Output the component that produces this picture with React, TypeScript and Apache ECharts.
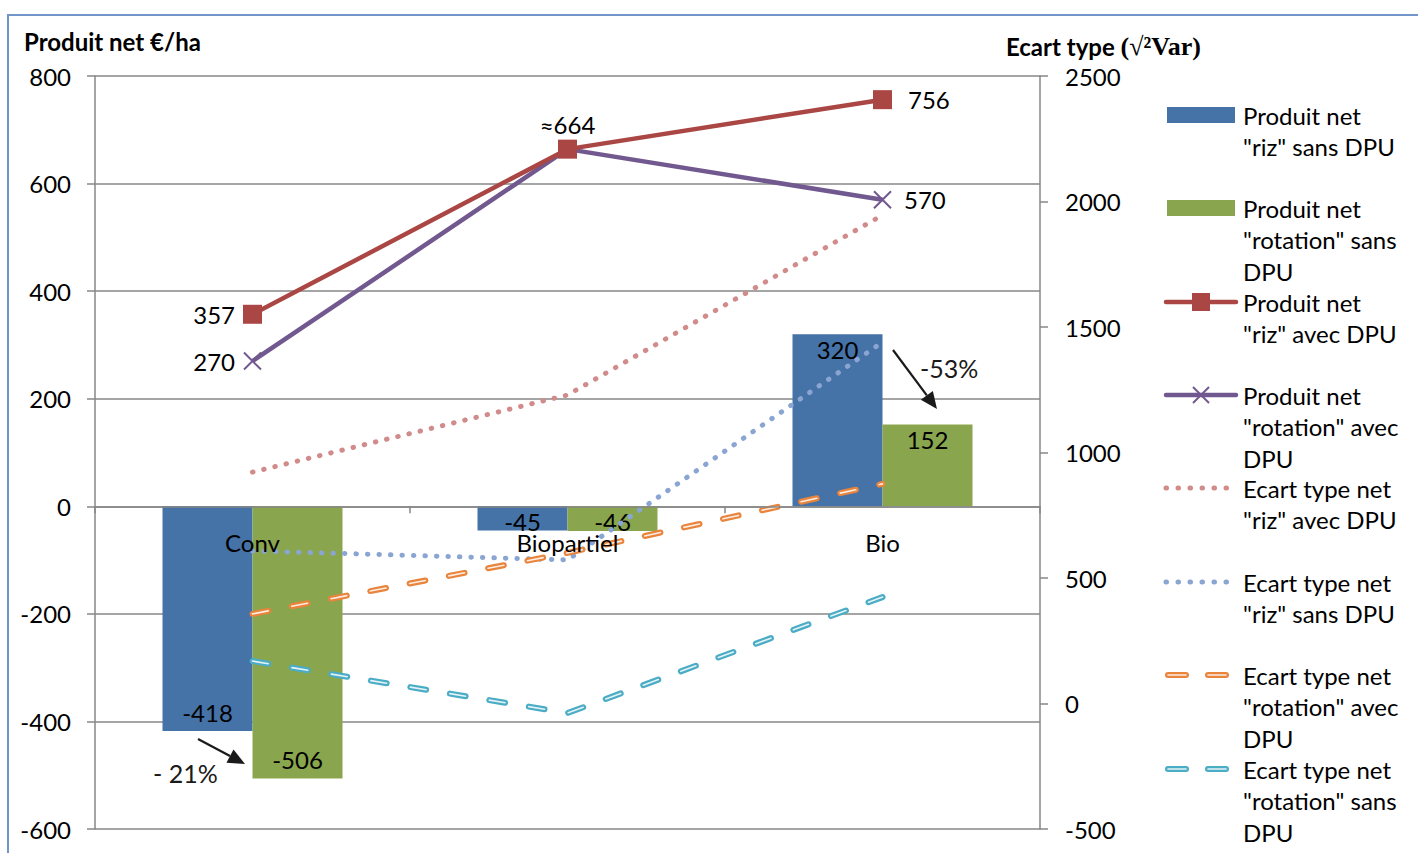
import React, { useEffect, useRef } from 'react';
import * as echarts from 'echarts';

const categories = ['Conv', 'Biopartiel', 'Bio'];
const rizSansDPU = [-418, -45, 320];
const rotationSansDPU = [-506, -46, 152];
const rizAvecDPU = [357, 664, 756];
const rotationAvecDPU = [270, 664, 570];
const ecartRizAvecDPU = [922, 1229, 1946];
const ecartRizSansDPU = [608, 572, 1440];
const ecartRotationAvecDPU = [357, 600, 875];
const ecartRotationSansDPU = [169, -38, 424];

const leftAxis = { min: -600, max: 800, interval: 200 };
const rightAxis = { min: -500, max: 2500, interval: 500 };

const rizAvecLabels = ['357', '≈664', '756'];
const rotationAvecLabels = ['270', '', '570'];

const legendLabels = [
  'Produit net\n"riz" sans DPU',
  'Produit net\n"rotation" sans\nDPU',
  'Produit net\n"riz" avec DPU',
  'Produit net\n"rotation" avec\nDPU',
  'Ecart type net\n"riz" avec DPU',
  'Ecart type net\n"riz" sans DPU',
  'Ecart type net\n"rotation" avec\nDPU',
  'Ecart type net\n"rotation" sans\nDPU',
];

const FONT = 'Lato';
const FS = 24;
const C = {
  blue: '#4572A7',
  green: '#89A54E',
  red: '#AA4643',
  purple: '#71588F',
  pink: '#D08B8A',
  lblue: '#8BA5D3',
  orange: '#E9843C',
  teal: '#4BACC6',
  axis: '#878787',
};

function arrow(x1: number, y1: number, x2: number, y2: number) {
  const dx = x2 - x1, dy = y2 - y1;
  const len = Math.sqrt(dx * dx + dy * dy);
  const ux = dx / len, uy = dy / len;
  const hl = 17, hw = 7.5;
  const bx = x2 - ux * hl, by = y2 - uy * hl;
  return [
    { type: 'line', shape: { x1, y1, x2: bx, y2: by }, style: { stroke: '#1a1a1a', lineWidth: 2.2 }, z: 50 },
    {
      type: 'polygon',
      shape: { points: [[x2, y2], [bx - uy * hw, by + ux * hw], [bx + uy * hw, by - ux * hw]] },
      style: { fill: '#1a1a1a' },
      z: 50,
    },
  ];
}

function legendIcon(i: number, cy: number): any[] {
  const x0 = 1166, x1 = 1236;
  switch (i) {
    case 0:
      return [{ type: 'rect', shape: { x: 1167, y: cy - 8, width: 68, height: 16 }, style: { fill: C.blue } }];
    case 1:
      return [{ type: 'rect', shape: { x: 1167, y: cy - 8, width: 68, height: 16 }, style: { fill: C.green } }];
    case 2:
      return [
        { type: 'line', shape: { x1: x0, y1: cy, x2: x1, y2: cy }, style: { stroke: C.red, lineWidth: 4.5, lineCap: 'round' } },
        { type: 'rect', shape: { x: 1192, y: cy - 9, width: 18, height: 18 }, style: { fill: C.red } },
      ];
    case 3:
      return [
        { type: 'line', shape: { x1: x0, y1: cy, x2: x1, y2: cy }, style: { stroke: C.purple, lineWidth: 4.5, lineCap: 'round' } },
        { type: 'line', shape: { x1: 1193, y1: cy - 8, x2: 1209, y2: cy + 8 }, style: { stroke: C.purple, lineWidth: 2 } },
        { type: 'line', shape: { x1: 1193, y1: cy + 8, x2: 1209, y2: cy - 8 }, style: { stroke: C.purple, lineWidth: 2 } },
      ];
    case 4:
    case 5:
      return [
        {
          type: 'line',
          shape: { x1: 1166, y1: cy, x2: 1232, y2: cy },
          style: { stroke: i === 4 ? C.pink : C.lblue, lineWidth: 5, lineCap: 'round', lineDash: [0.5, 11.5] },
        },
      ];
    default: {
      const col = i === 6 ? C.orange : C.teal;
      return [
        { type: 'line', shape: { x1: 1168, y1: cy, x2: 1186, y2: cy }, style: { stroke: col, lineWidth: 6, lineCap: 'round' } },
        { type: 'line', shape: { x1: 1208, y1: cy, x2: 1226, y2: cy }, style: { stroke: col, lineWidth: 6, lineCap: 'round' } },
        { type: 'line', shape: { x1: 1168, y1: cy, x2: 1186, y2: cy }, style: { stroke: '#fff', lineWidth: 1.6, lineCap: 'round', opacity: 0.85 } },
        { type: 'line', shape: { x1: 1208, y1: cy, x2: 1226, y2: cy }, style: { stroke: '#fff', lineWidth: 1.6, lineCap: 'round', opacity: 0.85 } },
      ];
    }
  }
}

const legendY = [115, 208, 302, 395, 488, 582, 675, 769];

function baseGraphic(): any[] {
  const graphic: any[] = [
    {
      type: 'rect', shape: { x: 8, y: 15, width: 1430, height: 860 },
      style: { fill: 'none', stroke: '#7396CA', lineWidth: 2 }, silent: true,
    },
    { type: 'text', x: 153, y: 773, style: { text: '- 21%', font: `25px ${FONT}`, fill: '#1a1a1a', textVerticalAlign: 'middle' }, z: 50 },
    { type: 'text', x: 920, y: 368, style: { text: '-53%', font: `25px ${FONT}`, fill: '#1a1a1a', textVerticalAlign: 'middle' }, z: 50 },
    ...arrow(198, 739, 245, 764),
    ...arrow(893, 350, 937, 409),
  ];
  legendLabels.forEach((t, i) => {
    const cy = legendY[i];
    graphic.push(...legendIcon(i, cy));
    graphic.push({
      type: 'text', x: 1243, y: cy - 15.75,
      style: { text: t, font: `${FS}px ${FONT}`, fill: '#000', lineHeight: 31.5, textVerticalAlign: 'top' },
    });
  });
  return graphic;
}

function buildOption(): any {
  const barLabel = (v: number) => ({
    value: v,
    label: Math.abs(v) < 100
      ? { position: 'inside', offset: [0, 3] }
      : { position: v < 0 ? 'insideBottom' : 'insideTop', distance: v < 0 ? 7 : 3 },
  });

  const dotted = (name: string, data: number[], color: string) => ({
    type: 'line', name, data, yAxisIndex: 1, symbol: 'none', showSymbol: false, z: 4,
    lineStyle: { color, width: 5, type: [0.5, 11], cap: 'round' },
  });
  const doubleDashed = (name: string, data: number[], color: string) => [
    {
      type: 'line', name, data, yAxisIndex: 1, symbol: 'none', showSymbol: false, z: 4,
      lineStyle: { color, width: 6, type: [16, 24], cap: 'round' },
    },
    {
      type: 'line', name: name + ' (inner)', data, yAxisIndex: 1, symbol: 'none', showSymbol: false, z: 5,
      lineStyle: { color: '#ffffff', width: 1.6, type: [16, 24], cap: 'round', opacity: 0.85 },
    },
  ];

  return {
    animation: false,
    backgroundColor: '#ffffff',
    textStyle: { fontFamily: FONT },
    title: [
      {
        text: 'Produit net €/ha', left: 19, top: 24,
        textStyle: { fontFamily: FONT, fontSize: 24, fontWeight: 'bold', color: '#000' },
      },
      {
        text: '{a|Ecart type }{b|(√²Var)}', left: 1001, top: 28,
        textStyle: {
          rich: {
            a: { fontFamily: FONT, fontSize: 24, fontWeight: 'bold', color: '#000' },
            b: { fontFamily: 'Liberation Serif', fontSize: 26, fontWeight: 'bold', color: '#000' },
          },
        },
      },
    ],
    grid: { left: 95, right: 378, top: 76, bottom: 24, containLabel: false, outerBoundsMode: 'none' },
    xAxis: {
      type: 'category', data: categories, z: 6,
      axisLine: { onZero: true, onZeroAxisIndex: 0, lineStyle: { color: C.axis, width: 1.5 } },
      axisTick: { show: true, length: 7, lineStyle: { color: C.axis, width: 1.5 } },
      axisLabel: { show: false },
    },
    yAxis: [
      {
        type: 'value', ...leftAxis, position: 'left',
        axisLine: { show: true, lineStyle: { color: C.axis, width: 1.5 } },
        axisTick: { show: true, length: 8, lineStyle: { color: C.axis, width: 1.5 } },
        axisLabel: { margin: 24, fontSize: FS, color: '#000', fontFamily: FONT },
        splitLine: { show: true, lineStyle: { color: C.axis, width: 1.5 } },
      },
      {
        type: 'value', ...rightAxis, position: 'right',
        axisLine: { show: true, lineStyle: { color: C.axis, width: 1.5 } },
        axisTick: { show: true, length: 8, lineStyle: { color: C.axis, width: 1.5 } },
        axisLabel: { margin: 25, fontSize: FS, color: '#000', fontFamily: FONT, formatter: (v: number) => String(v) },
        splitLine: { show: false },
      },
    ],
    legend: { show: false },
    series: [
      {
        type: 'bar', name: 'Produit net "riz" sans DPU', data: rizSansDPU.map(barLabel),
        barWidth: 90, barGap: '0%', itemStyle: { color: C.blue },
        label: { show: true, fontSize: FS, color: '#000', fontFamily: FONT },
      },
      {
        type: 'bar', name: 'Produit net "rotation" sans DPU', data: rotationSansDPU.map(barLabel),
        barWidth: 90, barGap: '0%', itemStyle: { color: C.green },
        label: { show: true, fontSize: FS, color: '#000', fontFamily: FONT },
      },
      dotted('Ecart type net "riz" avec DPU', ecartRizAvecDPU, C.pink),
      dotted('Ecart type net "riz" sans DPU', ecartRizSansDPU, C.lblue),
      ...doubleDashed('Ecart type net "rotation" avec DPU', ecartRotationAvecDPU, C.orange),
      ...doubleDashed('Ecart type net "rotation" sans DPU', ecartRotationSansDPU, C.teal),
      {
        type: 'line', name: 'Produit net "rotation" avec DPU', yAxisIndex: 0, z: 6,
        data: rotationAvecDPU.map((v, i) => ({
          value: v,
          label: { position: i === 0 ? 'left' : 'right', distance: i === 0 ? 8 : 12, formatter: rotationAvecLabels[i] },
        })),
        symbol: 'path://M0,0L10,10M10,0L0,10', symbolSize: 17,
        itemStyle: { color: 'rgba(0,0,0,0)', borderColor: C.purple, borderWidth: 2 },
        lineStyle: { color: C.purple, width: 4.5 },
        label: { show: true, fontSize: FS, color: '#000', fontFamily: FONT },
      },
      {
        type: 'line', name: 'Produit net "riz" avec DPU', yAxisIndex: 0, z: 7,
        data: rizAvecDPU.map((v, i) => ({
          value: v,
          label: {
            position: i === 0 ? 'left' : i === 1 ? 'top' : 'right',
            distance: i === 0 ? 8 : i === 1 ? 3 : 16,
            formatter: rizAvecLabels[i],
          },
        })),
        symbol: 'rect', symbolSize: 19,
        itemStyle: { color: C.red },
        lineStyle: { color: C.red, width: 4.5 },
        label: { show: true, fontSize: FS, color: '#000', fontFamily: FONT },
      },
    ],
  };
}

export default function App() {
  const ref = useRef<HTMLDivElement>(null);
  useEffect(() => {
    const chart = echarts.init(ref.current!, null, { renderer: 'svg' });
    chart.setOption(buildOption());
    // Category labels sit just below the zero line (Excel-style axis crossing at 0).
    const catTexts = categories.map((c, i) => {
      const p = chart.convertToPixel({ gridIndex: 0 }, [i, 0]) as number[];
      return {
        type: 'text', x: p[0], y: p[1] + 36, z: 60,
        style: { text: c, font: `${FS}px ${FONT}`, fill: '#000', textAlign: 'center', textVerticalAlign: 'middle' },
      };
    });
    chart.setOption({ graphic: [...baseGraphic(), ...catTexts] });
    return () => chart.dispose();
  }, []);
  return <div ref={ref} style={{ position: 'absolute', left: 0, top: 0, width: 1418, height: 853 }} />;
}
